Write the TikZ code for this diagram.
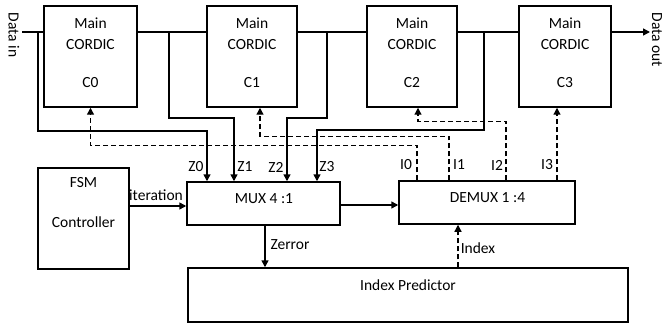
\documentclass[tikz,border=0pt]{standalone}
\usepackage{fontspec}
\setmainfont{Carlito}
\usetikzlibrary{arrows.meta,calc}
\tikzset{
  blk/.style={draw, line width=1.5pt, inner sep=0pt, minimum width=#1},
  lbl/.style={inner sep=0pt, font=\fontsize{15.5}{18}\selectfont},
  wire/.style={line width=1.5pt},
  arr/.style={line width=1.5pt, -{Triangle[length=7pt,width=7pt]}},
  darr/.style={line width=1.3pt, dash pattern=on 5pt off 3pt, -{Triangle[length=7pt,width=7pt]}},
}
\begin{document}
\begin{tikzpicture}[x=1pt,y=-1pt]
\useasboundingbox (0,0) rectangle (666,326);
% CORDIC boxes
\node[blk=93pt, minimum height=101pt] (c0) at (90.5,56.5) {};
\node[blk=90pt, minimum height=101pt] (c1) at (252,56.5) {};
\node[blk=90pt, minimum height=101pt] (c2) at (412,56.5) {};
\node[blk=92pt, minimum height=101pt] (c3) at (565,56.5) {};
\foreach \n/\x/\t in {m0/90.5/C0, m1/252/C1, m2/412/C2, m3/565/C3}{
  \node[lbl] (\n a) at (\x,23) {Main};
  \node[lbl] (\n b) at (\x,45) {CORDIC};
  \node[lbl] (\n c) at (\x,83) {\t};
}
% other blocks
\node[blk=91pt, minimum height=101pt] (fsm) at (83.5,218.5) {};
\node[lbl] (fsmt) at (83.5,183) {FSM};
\node[lbl] (fsmc) at (83.5,222) {Controller};
\node[blk=153pt, minimum height=43pt] (mux) at (263.5,203.5) {};
\node[lbl] (muxt) at (264,199) {MUX 4 :1};
\node[blk=176pt, minimum height=43pt] (demux) at (487,202.5) {};
\node[lbl] (demuxt) at (487.5,198) {DEMUX 1 :4};
\node[blk=440pt, minimum height=54pt] (ip) at (408,295) {};
\node[lbl] (ipt) at (408,285) {Index Predictor};
% data in / out
\node[lbl, rotate=-90] (dint) at (14,35) {Data in};
\node[lbl, rotate=-90] (doutt) at (657,40) {Data out};
\coordinate (din) at (22,32);
\coordinate (dout) at (650,32);
\coordinate (b0) at (38,32);
\coordinate (b1) at (169,32);
\coordinate (b2) at (327,32);
\coordinate (b3) at (484,32);
% main chain
\draw[wire] (din) -- (din -| c0.west);
\draw[wire] (b1 -| c0.east) -- (b1 -| c1.west);
\draw[wire] (b2 -| c1.east) -- (b2 -| c2.west);
\draw[wire] (b3 -| c2.east) -- (b3 -| c3.west);
\draw[arr] (dout -| c3.east) -- (dout);
% Z feeds
\draw[arr] (b0) -- ++(0,99) -| ([xshift=-56.5pt]mux.north);
\draw[arr] (b1) -- ++(0,86) -| ([xshift=-29.5pt]mux.north);
\draw[arr] (b2) -- ++(0,86) -| ([xshift=23.5pt]mux.north);
\draw[arr] (b3) -- ++(0,98) -| ([xshift=53.5pt]mux.north);
\node[lbl] (z0) at (196,167) {Z0};
\node[lbl] (z1) at (245,167) {Z1};
\node[lbl] (z2) at (276,167) {Z2};
\node[lbl] (z3) at (327,167) {Z3};
% index feeds
\draw[darr] ([xshift=-70pt]demux.north) -- ++(0,-35) -| (c0.south);
\draw[darr] ([xshift=-38pt]demux.north) -- ++(0,-44) -| ([xshift=8pt]c1.south);
\draw[darr] ([xshift=19pt]demux.north) -- ++(0,-59) -| ([xshift=6pt]c2.south);
\draw[darr] ([xshift=70pt]demux.north) -- ([xshift=70pt]demux.north |- c3.south);
\node[lbl] (i0) at (406,165) {I0};
\node[lbl] (i1) at (459,165) {I1};
\node[lbl] (i2) at (497,165) {I2};
\node[lbl] (i3) at (547,165) {I3};
% fsm -> mux
\draw[arr] ([yshift=12.5pt]fsm.east) -- ([yshift=12.5pt]fsm.east -| mux.west);
\node[lbl] (itl) at (156,195) {iteration};
% mux -> demux
\draw[arr] ([yshift=-1.5pt]mux.east) -- ([yshift=-1.5pt]mux.east -| demux.west);
% zerror
\draw[arr] ([xshift=1.5pt]mux.south) -- ([xshift=1.5pt]mux.south |- ip.north);
\node[lbl] (zel) at (290,245) {Zerror};
% index
\draw[darr] ([xshift=50pt]ip.north) -- ([xshift=50pt]ip.north |- demux.south);
\node[lbl] (idl) at (478,248) {Index};
\end{tikzpicture}
\end{document}
